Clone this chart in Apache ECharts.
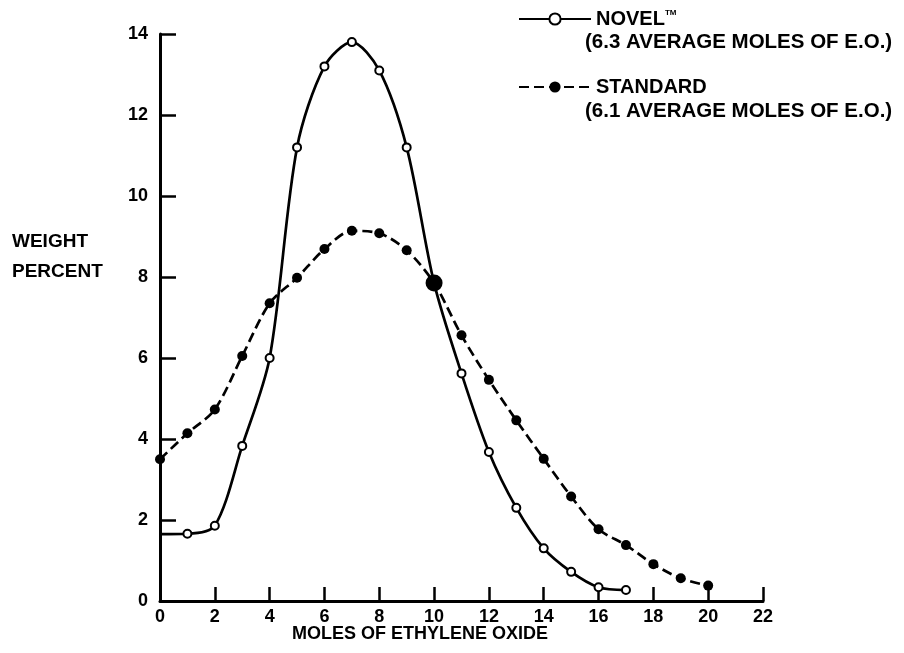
<!DOCTYPE html>
<html>
<head>
<meta charset="utf-8">
<script src="https://cdn.jsdelivr.net/npm/echarts@6/dist/echarts.min.js"></script>
<style>html,body{margin:0;padding:0;background:#fff;}#c{width:904px;height:653px;}</style>
</head>
<body>
<div id="c"></div>
<script>
// Data
const novelX = [0, 1, 2, 3, 4, 5, 6, 7, 8, 9, 10, 11, 12, 13, 14, 15, 16, 17];
const novelY = [1.65, 1.66, 1.86, 3.83, 6.0, 11.2, 13.2, 13.8, 13.1, 11.2, 7.85, 5.62, 3.68, 2.3, 1.3, 0.72, 0.34, 0.27];
const standardX = [0, 1, 2, 3, 4, 5, 6, 7, 8, 9, 10, 11, 12, 13, 14, 15, 16, 17, 18, 19, 20];
const standardY = [3.5, 4.14, 4.73, 6.05, 7.35, 7.98, 8.69, 9.14, 9.08, 8.66, 7.85, 6.56, 5.46, 4.46, 3.51, 2.58, 1.77, 1.38, 0.91, 0.56, 0.38];
const xTicks = [0, 2, 4, 6, 8, 10, 12, 14, 16, 18, 20, 22];
const yTicks = [0, 2, 4, 6, 8, 10, 12, 14];
const seriesNames = ['NOVEL™', 'STANDARD'];
const subtitles = ['(6.3 AVERAGE MOLES OF E.O.)', '(6.1 AVERAGE MOLES OF E.O.)'];
const xTitle = 'MOLES OF ETHYLENE OXIDE';
const yTitle = ['WEIGHT', 'PERCENT'];

const FONT = '"Liberation Sans", Arial, sans-serif';

const novelData = novelX.map((x, i) => {
  if (i === 0 || x === 10) return { value: [x, novelY[i]], symbol: 'none' };
  return [x, novelY[i]];
});
const standardData = standardX.map((x, i) => {
  if (x === 10) return { value: [x, standardY[i]], symbolSize: 17 };
  return [x, standardY[i]];
});

const chart = echarts.init(document.getElementById('c'));
chart.setOption({
  animation: false,
  backgroundColor: '#fff',
  grid: { left: 160, right: 141, top: 34, bottom: 52, containLabel: false },
  xAxis: {
    type: 'value', min: xTicks[0], max: xTicks[xTicks.length - 1], interval: 2,
    axisLine: { lineStyle: { color: '#000', width: 3 } },
    axisTick: { inside: true, length: 14, lineStyle: { color: '#000', width: 2.5 } },
    axisLabel: { color: '#000', fontFamily: FONT, fontWeight: 'bold', fontSize: 18, margin: 7 },
    splitLine: { show: false }
  },
  yAxis: {
    type: 'value', min: yTicks[0], max: yTicks[yTicks.length - 1], interval: 2,
    axisLine: { show: true, lineStyle: { color: '#000', width: 3 } },
    axisTick: { show: true, inside: true, length: 16, lineStyle: { color: '#000', width: 2.5 } },
    axisLabel: { color: '#000', fontFamily: FONT, fontWeight: 'bold', fontSize: 18, margin: 12 },
    splitLine: { show: false }
  },
  legend: {
    orient: 'vertical', left: 513, top: 4,
    itemWidth: 72, itemHeight: 14, itemGap: 48,
    data: seriesNames,
    textStyle: { color: '#000', fontFamily: FONT, fontWeight: 'bold', fontSize: 20,
      rich: { tm: { fontSize: 8, fontWeight: 'bold', fontFamily: FONT, verticalAlign: 'top', padding: [0, 0, 10, 0] } } },
    formatter: name => name === 'NOVEL™' ? 'NOVEL{tm|TM}' : name
  },
  graphic: [
    { type: 'text', x: 585, y: 42, style: { text: subtitles[0], font: 'bold 20.5px ' + FONT, fill: '#000', verticalAlign: 'middle' } },
    { type: 'text', x: 585, y: 111, style: { text: subtitles[1], font: 'bold 20.5px ' + FONT, fill: '#000', verticalAlign: 'middle' } },
    { type: 'text', x: 12, y: 242, style: { text: yTitle[0], font: 'bold 19px ' + FONT, fill: '#000', verticalAlign: 'middle' } },
    { type: 'text', x: 12, y: 272, style: { text: yTitle[1], font: 'bold 19px ' + FONT, fill: '#000', verticalAlign: 'middle' } },
    { type: 'text', x: 420, y: 634, style: { text: xTitle, font: 'bold 18px ' + FONT, fill: '#000', align: 'center', verticalAlign: 'middle' } }
  ],
  series: [
    {
      name: seriesNames[0], type: 'line', smooth: 0.3, z: 2,
      data: novelData,
      symbol: 'emptyCircle', symbolSize: 8,
      lineStyle: { color: '#000', width: 2.7 },
      itemStyle: { color: '#000', borderColor: '#000', borderWidth: 2 }
    },
    {
      name: seriesNames[1], type: 'line', smooth: 0.3, z: 3,
      data: standardData,
      symbol: 'circle', symbolSize: 10,
      lineStyle: { color: '#000', width: 2.7, type: [10, 5] },
      itemStyle: { color: '#000', borderColor: '#000', borderWidth: 0 }
    }
  ]
});
</script>
</body>
</html>
